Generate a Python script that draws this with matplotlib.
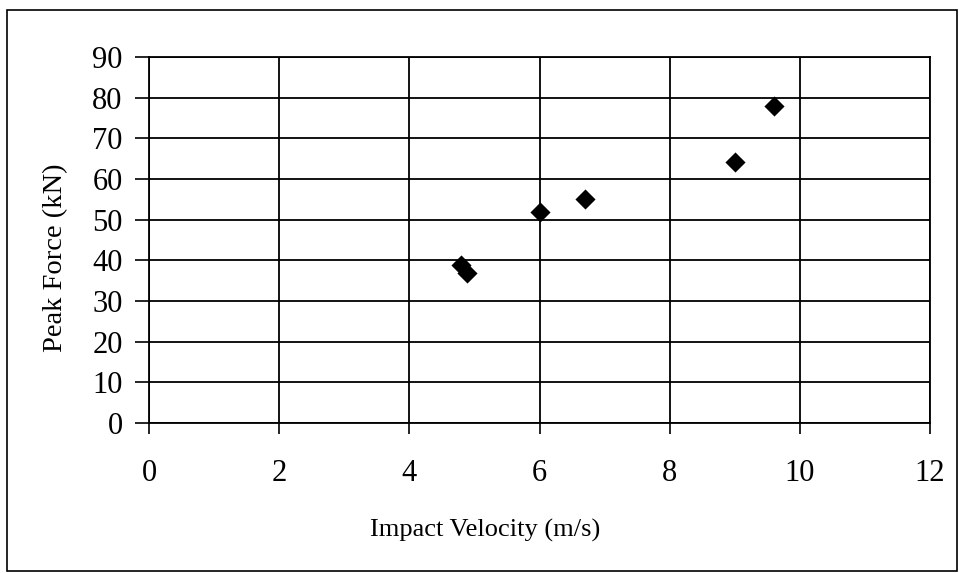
import matplotlib
matplotlib.use("Agg")
import matplotlib.pyplot as plt
from matplotlib.patches import Rectangle

velocity = [4.80, 4.88, 6.00, 6.70, 9.00, 9.60]
peak_force = [38.8, 36.8, 52.0, 55.0, 64.3, 78.0]
x_ticks = [0, 2, 4, 6, 8, 10, 12]
y_ticks = [0, 10, 20, 30, 40, 50, 60, 70, 80, 90]

plt.rcParams['font.family'] = ['Liberation Serif', 'DejaVu Serif']

W, H = 959, 573
fig = plt.figure(figsize=(W / 100, H / 100), dpi=100)
fig.patch.set_facecolor('white')

# outer chart border
fig.add_artist(Rectangle((7 / W, 1 - 571 / H), (957 - 7) / W, (571 - 10) / H,
                         transform=fig.transFigure, fill=False,
                         edgecolor='black', linewidth=1.2))

left, right = 149 / W, 930 / W
top, bottom = 1 - 57 / H, 1 - 423 / H
ax = fig.add_axes([left, bottom, right - left, top - bottom])

ax.scatter(velocity, peak_force, marker='D', s=105, color='black', zorder=3,
           linewidths=0)

ax.set_xlim(0, 12)
ax.set_ylim(0, 90)
ax.set_xticks(x_ticks)
ax.set_yticks(y_ticks)
ax.grid(True, color='black', linewidth=1.3)
ax.set_axisbelow(True)
for s in ax.spines.values():
    s.set_color('black')
    s.set_linewidth(1.3)

ax.tick_params(axis='x', direction='out', length=8, width=1.2, pad=18,
               labelsize=22, colors='black')
ax.tick_params(axis='y', direction='out', length=10, width=1.2, pad=9,
               labelsize=22, colors='black')

fig.text(485 / W, 1 - 530 / H, 'Impact Velocity (m/s)', fontsize=19,
         ha='center', va='center')
fig.text(56 / W, 1 - 258 / H, 'Peak Force (kN)', fontsize=20.5,
         ha='center', va='center', rotation=90)

fig.savefig('out.png', dpi=100, facecolor='white')
